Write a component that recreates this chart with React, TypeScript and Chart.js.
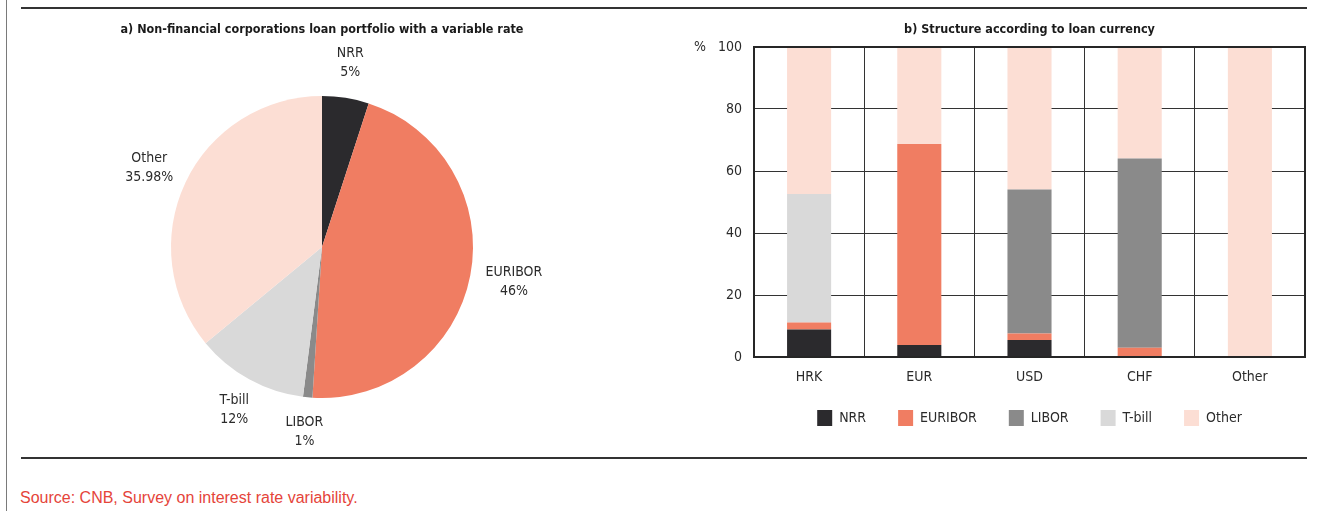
import React, { useEffect, useRef } from 'react';
import { Chart, registerables } from 'chart.js';

Chart.register(...registerables);

// ---------- data ----------
const pieCategories = ['NRR', 'EURIBOR', 'LIBOR', 'T-bill', 'Other'];
const pieValues = [5, 46, 1, 12, 35.98];

const currencies = ['HRK', 'EUR', 'USD', 'CHF', 'Other'];
const nrrShare = [8.9, 3.9, 5.5, 0, 0];
const euriborShare = [2.2, 64.8, 2.1, 3.0, 0];
const liborShare = [0, 0, 46.4, 61.0, 0];
const tbillShare = [41.5, 0, 0, 0, 0];
const otherShare = [47.4, 31.3, 46.0, 36.0, 100];
const yTickValues = [0, 20, 40, 60, 80, 100];

const seriesNames = ['NRR', 'EURIBOR', 'LIBOR', 'T-bill', 'Other'];
const seriesColors = ['#2b2a2d', '#f07d62', '#8a8a8a', '#d9d9d9', '#fcded4'];

const pieTitle = 'a) Non-financial corporations loan portfolio with a variable rate';
const barTitle = 'b) Structure according to loan currency';
const sourceText = 'Source: CNB, Survey on interest rate variability.';

// ---------- styles ----------
const NARROW = '"Liberation Sans Narrow", "DejaVu Sans Condensed", "Liberation Sans", Arial, sans-serif';
const TEXT = '#2b2b2b';

const fmtPct = (v: number) => (Number.isInteger(v) ? String(v) : v.toFixed(2)) + '%';

const pieLabelPlugin = {
  id: 'pieOuterLabels',
  afterDatasetsDraw(chart: any) {
    const ctx = chart.ctx;
    const meta = chart.getDatasetMeta(0);
    ctx.save();
    ctx.font = `14px ${NARROW}`;
    ctx.fillStyle = TEXT;
    ctx.textAlign = 'center';
    ctx.textBaseline = 'middle';
    const lh = 19;
    meta.data.forEach((arc: any, i: number) => {
      const p = arc.getProps(['x', 'y', 'startAngle', 'endAngle', 'outerRadius'], true);
      const mid = (p.startAngle + p.endAngle) / 2;
      const ux = Math.cos(mid);
      const uy = Math.sin(mid);
      const l1 = pieCategories[i];
      const l2 = fmtPct(pieValues[i]);
      const w = Math.max(ctx.measureText(l1).width, ctx.measureText(l2).width);
      const h = lh * 2;
      const r = p.outerRadius + 16;
      const cx = p.x + ux * r + (ux * w) / 2;
      const cy = p.y + uy * r + (uy * h) / 2;
      ctx.fillText(l1, cx, cy - lh / 2);
      ctx.fillText(l2, cx, cy + lh / 2);
    });
    ctx.restore();
  },
};

const barFramePlugin = {
  id: 'barFrame',
  afterLayout(chart: any) {
    const lg = chart.legend;
    if (lg) {
      lg.top -= 8;
      lg.bottom -= 8;
    }
  },
  afterDraw(chart: any) {
    const { ctx, chartArea } = chart;
    const yScale = chart.scales.y;
    ctx.save();
    ctx.strokeStyle = '#262626';
    ctx.lineWidth = 2;
    ctx.strokeRect(chartArea.left, chartArea.top, chartArea.right - chartArea.left, chartArea.bottom - chartArea.top);
    ctx.font = `14px ${NARROW}`;
    ctx.fillStyle = TEXT;
    ctx.textAlign = 'center';
    ctx.textBaseline = 'middle';
    ctx.fillText('%', chartArea.left - 54, yScale.getPixelForValue(yTickValues[yTickValues.length - 1]));
    ctx.restore();
  },
};

export default function App() {
  const pieRef = useRef<HTMLCanvasElement | null>(null);
  const barRef = useRef<HTMLCanvasElement | null>(null);

  useEffect(() => {
    const pie = new Chart(pieRef.current as HTMLCanvasElement, {
      type: 'pie',
      data: {
        labels: pieCategories,
        datasets: [
          {
            data: pieValues,
            backgroundColor: seriesColors,
            borderWidth: 0,
            hoverOffset: 0,
            radius: 151,
          } as any,
        ],
      },
      options: {
        animation: false,
        responsive: false,
        maintainAspectRatio: false,
        layout: { padding: { top: 0, bottom: 28.4, left: 0, right: 0 } },
        plugins: {
          legend: { display: false },
          tooltip: { enabled: false },
          title: {
            display: true,
            text: pieTitle,
            color: '#1a1a1a',
            font: { family: NARROW, size: 12.5, weight: 'bold', lineHeight: 16.8 / 12.5 },
            padding: { top: 11.6, bottom: 0 },
          },
        },
      } as any,
      plugins: [pieLabelPlugin],
    });

    const seriesData = [nrrShare, euriborShare, liborShare, tbillShare, otherShare];
    const bar = new Chart(barRef.current as HTMLCanvasElement, {
      type: 'bar',
      data: {
        labels: currencies,
        datasets: seriesNames.map((name, i) => ({
          label: name,
          data: seriesData[i],
          backgroundColor: seriesColors[i],
          borderWidth: 0,
          barPercentage: 0.4,
          categoryPercentage: 1,
        })),
      },
      options: {
        animation: false,
        responsive: false,
        maintainAspectRatio: false,
        layout: { padding: { left: 0, right: 16, top: 0, bottom: 0 } },
        scales: {
          x: {
            stacked: true,
            grid: { color: '#333', lineWidth: 1, drawTicks: false, offset: true },
            border: { display: true, color: '#262626', width: 2 },
            ticks: { padding: 12, color: TEXT, font: { family: NARROW, size: 14 } },
            afterFit: (s: any) => {
              s.height = 29;
            },
          },
          y: {
            stacked: true,
            min: yTickValues[0],
            max: yTickValues[yTickValues.length - 1],
            grid: { color: '#333', lineWidth: 1, drawTicks: false },
            border: { display: true, color: '#262626', width: 2 },
            ticks: {
              stepSize: yTickValues[1] - yTickValues[0],
              padding: 12,
              color: TEXT,
              font: { family: NARROW, size: 14 },
            },
            afterFit: (s: any) => {
              s.width = 74;
            },
          },
        },
        plugins: {
          tooltip: { enabled: false },
          title: {
            display: true,
            text: barTitle,
            fullSize: false,
            color: '#1a1a1a',
            font: { family: NARROW, size: 12.5, weight: 'bold', lineHeight: 16.8 / 12.5 },
            padding: { top: 11.6, bottom: 8.6 },
          },
          legend: {
            position: 'bottom',
            fullSize: false,
            labels: {
              boxWidth: 15,
              boxHeight: 16,
              padding: 32,
              color: TEXT,
              font: { family: NARROW, size: 14 },
            },
          },
        },
      } as any,
      plugins: [barFramePlugin],
    });

    return () => {
      pie.destroy();
      bar.destroy();
    };
  }, []);

  return (
    <div
      style={{
        position: 'fixed',
        left: 0,
        top: 0,
        width: 1321,
        height: 511,
        background: '#fff',
        overflow: 'hidden',
      }}
    >
      <div style={{ position: 'absolute', left: 6, top: 0, width: 1, height: 511, background: '#7a7a7a' }} />
      <div style={{ position: 'absolute', left: 21, top: 7, width: 1286, height: 2, background: '#333' }} />
      <div style={{ position: 'absolute', left: 21, top: 456.5, width: 1286, height: 2, background: '#333' }} />
      <canvas
        ref={pieRef}
        width={600}
        height={474}
        style={{ position: 'absolute', left: 22, top: 10, width: 600, height: 474 }}
      />
      <canvas
        ref={barRef}
        width={641}
        height={434}
        style={{ position: 'absolute', left: 680, top: 10, width: 641, height: 434 }}
      />
      <div
        style={{
          position: 'absolute',
          left: 20,
          top: 490,
          fontFamily: '"Liberation Sans", Arial, sans-serif',
          fontSize: 16,
          lineHeight: '16px',
          color: '#e5443a',
          whiteSpace: 'nowrap',
        }}
      >
        {sourceText}
      </div>
    </div>
  );
}
